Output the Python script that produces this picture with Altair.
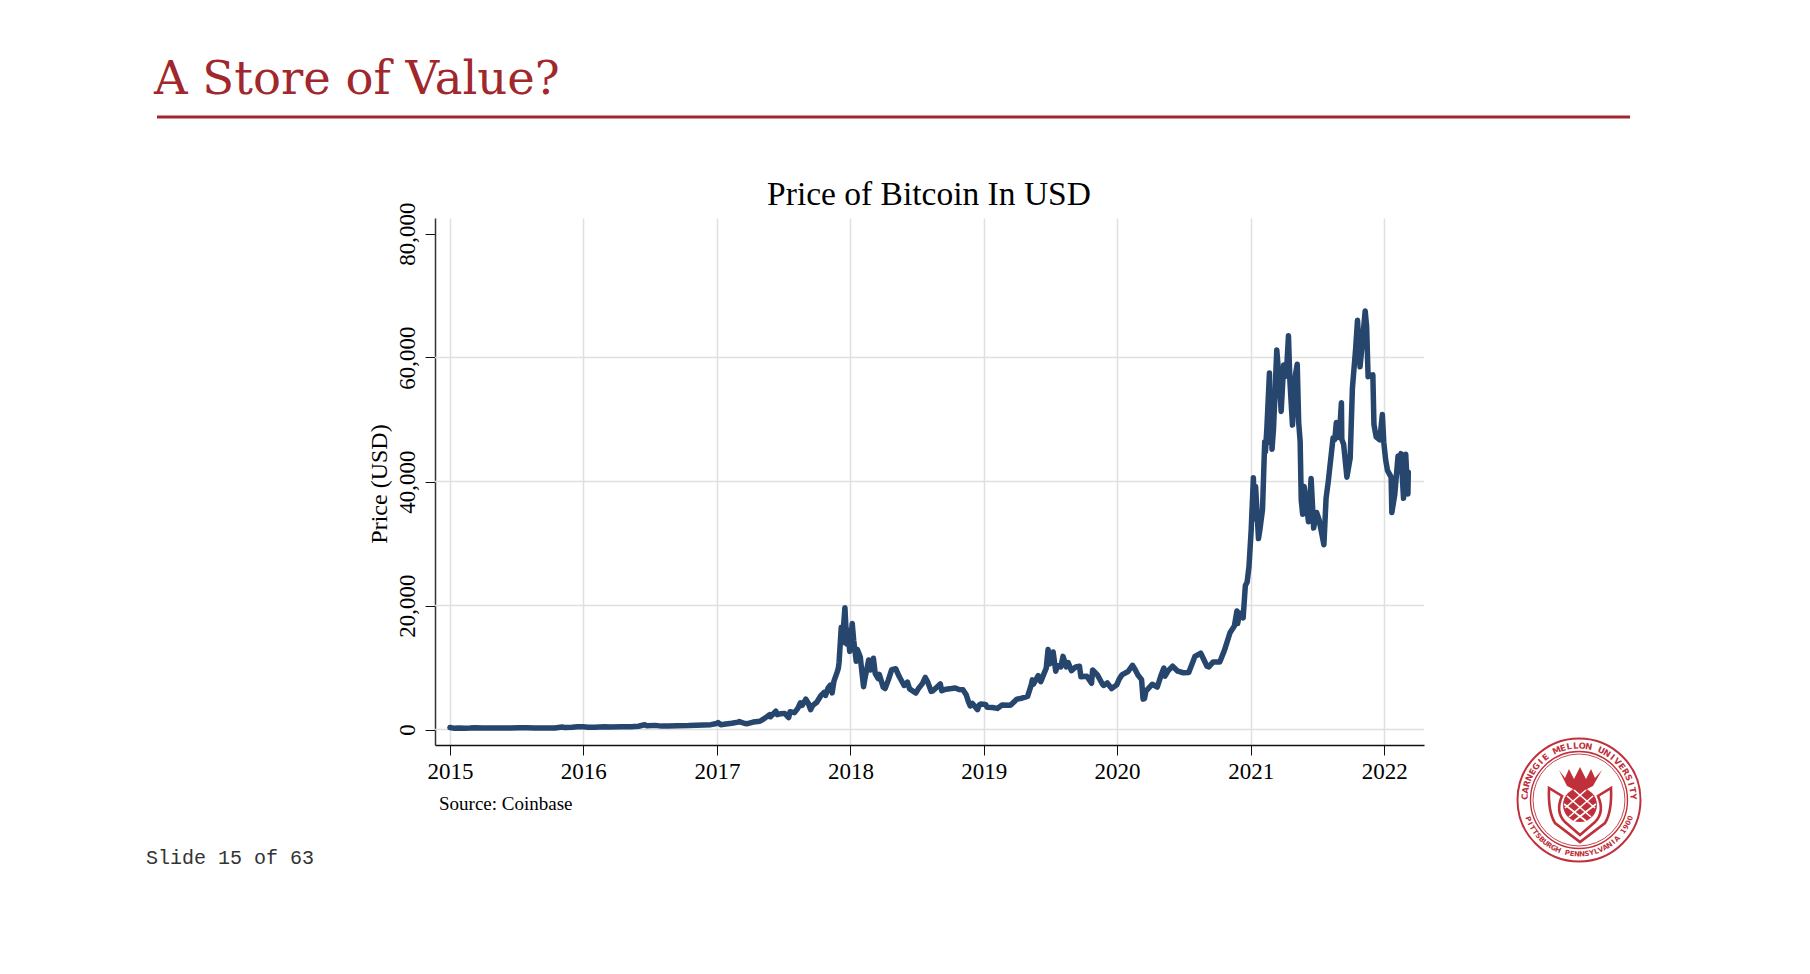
import math
import altair as alt
import pandas as pd

# Bitcoin close price (USD)
DATES = [
    "2015-01-01", "2015-01-14", "2015-01-25", "2015-02-10", "2015-02-25", "2015-03-10", "2015-03-31",
    "2015-04-15", "2015-05-15", "2015-06-15", "2015-07-10", "2015-07-31", "2015-08-20", "2015-09-15",
    "2015-10-15", "2015-11-04", "2015-11-11", "2015-12-01", "2015-12-16", "2015-12-31",
    "2016-01-15", "2016-02-01", "2016-02-28", "2016-03-15", "2016-04-15", "2016-05-10", "2016-05-31",
    "2016-06-17", "2016-06-23", "2016-07-15", "2016-08-02", "2016-08-20", "2016-09-15", "2016-10-15",
    "2016-11-05", "2016-11-25", "2016-12-15", "2016-12-31",
    "2017-01-04", "2017-01-11", "2017-01-25", "2017-02-10", "2017-02-28", "2017-03-03", "2017-03-18",
    "2017-03-25", "2017-04-10", "2017-04-28", "2017-05-10", "2017-05-25", "2017-05-27", "2017-06-11",
    "2017-06-15", "2017-06-25", "2017-07-05", "2017-07-16", "2017-07-20", "2017-08-01", "2017-08-10",
    "2017-08-17", "2017-08-22", "2017-09-01", "2017-09-08", "2017-09-14", "2017-09-20", "2017-10-01",
    "2017-10-12", "2017-10-21", "2017-10-25", "2017-11-01", "2017-11-07", "2017-11-12", "2017-11-17",
    "2017-11-26", "2017-11-29", "2017-12-01", "2017-12-07", "2017-12-10", "2017-12-17", "2017-12-22",
    "2017-12-26", "2017-12-30",
    "2018-01-06", "2018-01-10", "2018-01-17", "2018-01-20", "2018-01-28", "2018-02-06", "2018-02-10",
    "2018-02-20", "2018-02-25", "2018-03-05", "2018-03-10", "2018-03-18", "2018-03-21", "2018-04-01",
    "2018-04-06", "2018-04-15", "2018-04-24", "2018-05-05", "2018-05-15", "2018-05-28", "2018-06-06",
    "2018-06-12", "2018-06-29", "2018-07-08", "2018-07-17", "2018-07-25", "2018-08-01", "2018-08-10",
    "2018-08-14", "2018-08-27", "2018-09-04", "2018-09-08", "2018-09-20", "2018-10-05", "2018-10-15",
    "2018-10-25", "2018-11-05", "2018-11-14", "2018-11-20", "2018-11-25", "2018-12-01", "2018-12-15",
    "2018-12-20", "2018-12-24",
    "2019-01-06", "2019-01-10", "2019-01-25", "2019-02-07", "2019-02-20", "2019-03-15", "2019-04-02",
    "2019-04-15", "2019-05-01", "2019-05-11", "2019-05-14", "2019-05-17", "2019-05-30", "2019-06-06",
    "2019-06-21", "2019-06-26", "2019-06-28", "2019-07-01", "2019-07-10", "2019-07-17", "2019-07-22",
    "2019-07-31", "2019-08-06", "2019-08-15", "2019-08-20", "2019-08-29", "2019-09-10", "2019-09-20",
    "2019-09-24", "2019-10-10", "2019-10-23", "2019-10-26", "2019-11-08", "2019-11-22", "2019-11-25",
    "2019-12-05", "2019-12-17", "2019-12-31",
    "2020-01-07", "2020-01-14", "2020-01-31", "2020-02-12", "2020-02-20", "2020-02-27", "2020-03-08",
    "2020-03-12", "2020-03-16", "2020-03-20", "2020-04-06", "2020-04-20", "2020-04-30", "2020-05-08",
    "2020-05-11", "2020-05-20", "2020-06-01", "2020-06-15", "2020-06-30", "2020-07-15", "2020-07-27",
    "2020-08-01", "2020-08-17", "2020-09-03", "2020-09-08", "2020-09-20", "2020-10-08", "2020-10-21",
    "2020-11-05", "2020-11-17", "2020-11-24", "2020-11-26", "2020-12-01", "2020-12-11", "2020-12-17",
    "2020-12-22", "2020-12-27",
    "2021-01-02", "2021-01-08", "2021-01-11", "2021-01-14", "2021-01-22", "2021-01-26", "2021-02-02",
    "2021-02-08", "2021-02-10", "2021-02-14", "2021-02-21", "2021-02-23", "2021-02-25", "2021-02-28",
    "2021-03-04", "2021-03-08", "2021-03-13", "2021-03-18", "2021-03-22", "2021-03-25", "2021-04-01",
    "2021-04-08", "2021-04-14", "2021-04-18", "2021-04-25", "2021-05-03", "2021-05-08", "2021-05-12",
    "2021-05-16", "2021-05-19", "2021-05-23", "2021-05-27", "2021-06-01", "2021-06-08", "2021-06-15",
    "2021-06-22", "2021-06-30", "2021-07-07", "2021-07-20", "2021-07-26", "2021-08-01", "2021-08-14",
    "2021-08-19", "2021-08-23", "2021-08-31", "2021-09-06", "2021-09-07", "2021-09-12", "2021-09-21",
    "2021-09-30", "2021-10-06", "2021-10-15", "2021-10-20", "2021-10-27", "2021-11-03", "2021-11-10",
    "2021-11-14", "2021-11-18", "2021-11-24", "2021-12-01", "2021-12-04", "2021-12-10", "2021-12-20",
    "2021-12-27", "2021-12-31",
    "2022-01-05", "2022-01-10", "2022-01-20", "2022-01-22", "2022-01-30", "2022-02-08", "2022-02-11",
    "2022-02-16", "2022-02-23", "2022-02-24", "2022-03-01", "2022-03-03", "2022-03-07", "2022-03-08",
]
PRICES = [
    315, 185, 255, 220, 238, 290, 245,
    222, 237, 250, 285, 283, 235, 230,
    255, 400, 310, 370, 455, 430,
    375, 372, 432, 415, 430, 455, 530,
    765, 590, 665, 545, 580, 605, 640,
    705, 740, 780, 965,
    1130, 780, 890, 1000, 1190, 1270, 970,
    940, 1200, 1330, 1750, 2400, 2050, 2950,
    2400, 2550, 2600, 1930, 2860, 2720, 3400,
    4300, 3900, 4900, 4200, 3200, 3900, 4400,
    5450, 6000, 5500, 6700, 7150, 5900, 7800,
    9300, 9900, 10850, 16500, 14000, 19650, 13800,
    16000, 12600,
    17100, 14400, 11000, 12900, 11700, 6900, 8300,
    11200, 9600, 11500, 9000, 8200, 8900, 6800,
    6600, 8000, 9650, 9800, 8500, 7100, 7650,
    6550, 5880, 6750, 7400, 8400, 7600, 6150,
    6200, 6900, 7350, 6250, 6500, 6600, 6700,
    6450, 6400, 5600, 4500, 3800, 4200, 3200,
    4000, 4100,
    4050, 3600, 3550, 3400, 3950, 3900, 4900,
    5050, 5350, 7200, 8000, 7300, 8700, 7700,
    9900, 12900, 11000, 10600, 12500, 9400, 10300,
    10100, 11800, 10100, 10800, 9500, 10100, 10200,
    8500, 8600, 7450, 9600, 8800, 7300, 7100,
    7500, 6600, 7200,
    8150, 8800, 9350, 10350, 9600, 8800, 8050,
    4900, 5000, 6200, 7300, 6850, 8700, 9900,
    8600, 9500, 10200, 9400, 9150, 9200, 11000,
    11800, 12300, 10200, 10100, 10900, 10900, 12800,
    15600, 16700, 19100, 17100, 18800, 18000, 23200,
    23800, 26300,
    32200, 40600, 34000, 39200, 30800, 32300, 35500,
    46400, 44800, 48700, 57500, 46300, 50500, 45200,
    48400, 54000, 61200, 57600, 54300, 51300, 58800,
    57000, 63500, 56200, 49100, 57200, 58900, 49500,
    46500, 37000, 34700, 39200, 36700, 33500, 40500,
    32500, 35000, 33800, 29800, 37300, 40000, 47000,
    46800, 49500, 47100, 52700, 46800, 46000, 40700,
    43800, 55000, 61500, 66000, 58500, 62900, 67500,
    65000, 56900, 57100, 57200, 49200, 47200, 46700,
    50800, 46300,
    43500, 41800, 40700, 35000, 37900, 44100, 42400,
    44500, 37300, 38300, 44400, 42000, 38000, 41500,
]
Y_TICKS = [0, 20000, 40000, 60000, 80000]
Y_GRID = [0, 20000, 40000, 60000]

SLIDE_TITLE = "A Store of Value?"
CHART_TITLE = "Price of Bitcoin In USD"
SOURCE = "Source: Coinbase"
FOOTER = "Slide 15 of 63"
SEAL_TOP = "CARNEGIE MELLON UNIVERSITY"
SEAL_BOTTOM = "PITTSBURGH PENNSYLVANIA 1900"

RED = "#A0282D"
SEAL_RED = "#C0303A"
NAVY = "#26466E"
SERIF = "Liberation Serif"

df = pd.DataFrame({"date": DATES, "price": PRICES})

W, H = 989, 527

line = alt.Chart(df).mark_line(
    color=NAVY, strokeWidth=5.5, strokeCap="round", strokeJoin="round"
).encode(
    x=alt.X("date:T",
            scale=alt.Scale(domain=["2014-11-21", "2022-04-20"], nice=False),
            axis=alt.Axis(title=None, format="%Y",
                          tickCount={"interval": "year", "step": 1},
                          labelFont=SERIF, labelFontSize=23, labelColor="black",
                          labelPadding=5, tickSize=10, tickColor="#111",
                          domainColor="#111", domainWidth=1.5,
                          grid=True, gridColor="#E0E0E0", gridWidth=1.5)),
    y=alt.Y("price:Q",
            scale=alt.Scale(domain=[-2500, 82500], nice=False, zero=False),
            axis=alt.Axis(title=None, values=Y_TICKS, format=",d",
                          labelFont=SERIF, labelFontSize=23, labelColor="black",
                          labelAngle=270, labelAlign="center", labelBaseline="alphabetic",
                          labelPadding=11, tickSize=10, tickColor="#111",
                          domainColor="#333", domainWidth=1.5, grid=False)),
)

hgrid = alt.Chart(pd.DataFrame({"g": Y_GRID})).mark_rule(
    color="#E0E0E0", strokeWidth=1.5
).encode(y="g:Q")


def label(text, x, y, size, font=SERIF, color="black", align="left", angle=0, baseline="alphabetic"):
    return alt.Chart(pd.DataFrame({"t": [text]})).mark_text(
        align=align, baseline=baseline, fontSize=size, font=font, color=color, angle=angle
    ).encode(x=alt.value(x), y=alt.value(y), text="t:N")


slide_title = label(SLIDE_TITLE, -281, -124, 46.5, font="DejaVu Serif", color=RED)
header_rule = alt.Chart(pd.DataFrame({"a": [0]})).mark_rule(color=RED, strokeWidth=2.8).encode(
    x=alt.value(-278), x2=alt.value(1195), y=alt.value(-101)
)
chart_title = label(CHART_TITLE, 494, -13, 33.5, align="center")
y_title = label("Price (USD)", -55, 266, 24, align="center", angle=270, baseline="middle")
source = label(SOURCE, 4, 592, 19)
footer = label(FOOTER, -289, 646, 20, font="Liberation Mono", color="#333")

# university seal (decoration), centred at cx, cy in plot pixels
cx, cy = 1144, 582
rings = alt.Chart(pd.DataFrame({"s": [123 ** 2, 97 ** 2, 92 ** 2], "w": [2.0, 1.4, 0.9]})).mark_point(
    shape="circle", filled=False, color=SEAL_RED, opacity=1
).encode(x=alt.value(cx), y=alt.value(cy), size=alt.Size("s:Q", scale=None, legend=None),
         strokeWidth=alt.StrokeWidth("w:Q", scale=None, legend=None))

SHIELD = ("M -30,-12 Q -31,12 -24,23 L 1,42 L 26,23 Q 33,12 32,-12 L 19,-4 "
          "Q 26,12 16,22 L 1,35 L -14,22 Q -24,12 -17,-4 Z")
HEAD = "M -16,5 A 17,17 0 1,0 18,5 A 17,17 0 1,0 -16,5 Z"
FLOWER = ("M -20,-30 L -14,-22 L -10,-31 L -5,-21 L 1,-33 L 7,-21 L 12,-31 L 16,-22 L 23,-30 "
          "L 14,-14 L 6,-10 L -4,-10 L -12,-14 Z")
LATTICE = ("M -12,-4 L 12,17 M -15,4 L 7,21 M -5,-10 L 16,8 "
           "M 14,-4 L -10,17 M 17,4 L -5,21 M 7,-10 L -14,8")


def seal_shape(path, filled, color, width=0):
    kw = dict(shape=path, size=4, filled=filled, color=color, opacity=1)
    if not filled:
        kw["strokeWidth"] = width
    return alt.Chart(pd.DataFrame({"a": [0]})).mark_point(**kw).encode(
        x=alt.value(cx), y=alt.value(cy))


shield = seal_shape(SHIELD, False, SEAL_RED, 2.6)
head = seal_shape(HEAD, True, SEAL_RED)
flower = seal_shape(FLOWER, True, SEAL_RED)
lattice = seal_shape(LATTICE, False, "white", 1.6)

letters = []
for i, ch in enumerate(SEAL_TOP):
    th = 180 + (i + 0.5) * 180 / len(SEAL_TOP)
    r = math.radians(th)
    letters.append({"ch": ch, "px": cx + 54.5 * math.cos(r), "py": cy + 54.5 * math.sin(r),
                    "ang": (th + 90) % 360, "fs": 8.5})
for i, ch in enumerate(SEAL_BOTTOM):
    th = 162 - (i + 0.5) * 145 / len(SEAL_BOTTOM)
    r = math.radians(th)
    letters.append({"ch": ch, "px": cx + 54.5 * math.cos(r), "py": cy + 54.5 * math.sin(r),
                    "ang": (th - 90) % 360, "fs": 7})
seal_text = alt.Chart(pd.DataFrame(letters)).mark_text(
    font="DejaVu Sans", fontWeight="bold", color=SEAL_RED, align="center", baseline="middle"
).encode(
    x=alt.X("px:Q", scale=None, axis=None),
    y=alt.Y("py:Q", scale=None, axis=None),
    angle=alt.Angle("ang:Q", scale=None, legend=None),
    size=alt.Size("fs:Q", scale=None, legend=None),
    text="ch:N",
)

chart = alt.layer(
    hgrid, line, chart_title, y_title, source, slide_title, header_rule, footer,
    rings, shield, head, flower, lattice, seal_text,
).properties(
    width=W, height=H,
    background="white",
    autosize=alt.AutoSizeParams(type="none"),
    padding={"left": 427, "top": 210, "right": 370, "bottom": 215},
).configure_view(stroke=None)

chart.save("out.html", embed_options={"renderer": "svg", "actions": False})
